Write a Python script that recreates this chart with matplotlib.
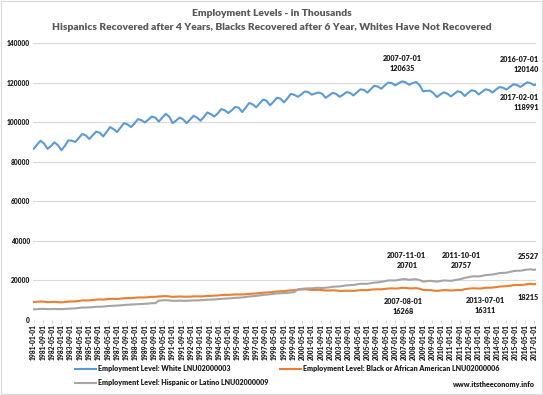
import matplotlib
matplotlib.use("Agg")
import matplotlib.pyplot as plt
import pandas as pd
import numpy as np

# ---------------- data (quarterly readings, thousands) ----------------
white = [
    86500, 88600, 90600, 89200,   # 1981
    86500, 87900, 89800, 88300,   # 1982
    85800, 88000, 90800, 90600,   # 1983
    90000, 92000, 94000, 93300,   # 1984
    91500, 93300, 95200, 94700,   # 1985
    92800, 95000, 97500, 96500,   # 1986
    95000, 97200, 99500, 98900,   # 1987
    97500, 99300, 101500, 101000,  # 1988
    99800, 101300, 102800, 102300,  # 1989
    100300, 102200, 104200, 102800,  # 1990
    99500, 100800, 102300, 101400,  # 1991
    99500, 101300, 103200, 102300,  # 1992
    100700, 102700, 104900, 104000,  # 1993
    102900, 104500, 106600, 106000,  # 1994
    104600, 106000, 107700, 107300,  # 1995
    105100, 107300, 109700, 109000,  # 1996
    107500, 109400, 111400, 110800,  # 1997
    108500, 110300, 112300, 111900,  # 1998
    110000, 112000, 114300, 113800,  # 1999
    112800, 114000, 115500, 115200,  # 2000
    113900, 114500, 115000, 114300,  # 2001
    112300, 113500, 114800, 114300,  # 2002
    112800, 113800, 115200, 114800,  # 2003
    113500, 115000, 116600, 116300,  # 2004
    114900, 116700, 118400, 118000,  # 2005
    116900, 118500, 120000, 119700,  # 2006
    118600, 119700, 120635, 120100,  # 2007
    118900, 119700, 120300, 118800,  # 2008
    115600, 115800, 115900, 114700,  # 2009
    112700, 114000, 115100, 114400,  # 2010
    113000, 114300, 115600, 115100,  # 2011
    113200, 114800, 116100, 115700,  # 2012
    114000, 115300, 116600, 116200,  # 2013
    115000, 116500, 117700, 117400,  # 2014
    116500, 117800, 119100, 118800,  # 2015
    117800, 119000, 120140, 119600,  # 2016
    118600, 118991,                  # 2017-01, 2017-02
]
black = [
    9100, 9200, 9350, 9250, 9000, 9100, 9200, 9050, 8900, 9050, 9300, 9350,
    9400, 9600, 9900, 9900, 9900, 10100, 10300, 10400, 10300, 10500, 10700, 10700,
    10600, 10800, 11000, 11100, 11000, 11200, 11400, 11400, 11400, 11500, 11700, 11700,
    11900, 12000, 12100, 11900, 11700, 11800, 11900, 11800, 11800, 11800, 11950, 11900,
    11900, 12000, 12200, 12200, 12300, 12400, 12600, 12700, 12700, 12800, 12900, 12900,
    12900, 13000, 13200, 13300, 13400, 13600, 13800, 13900, 14000, 14200, 14400, 14500,
    14600, 14800, 15000, 15100, 15300, 15400, 15500, 15400, 15200, 15200, 15300, 15100,
    14900, 14900, 15000, 14900, 14700, 14700, 14800, 14800, 14700, 14900, 15100, 15100,
    15100, 15300, 15500, 15500, 15500, 15700, 15900, 16000, 15900, 16000, 16268, 16200,
    16000, 16000, 16100, 15800, 15200, 15100, 15100, 14900, 14700, 14900, 15100, 15100,
    14900, 15000, 15200, 15100, 15600, 15800, 16000, 16000, 15900, 16000, 16311, 16300,
    16400, 16600, 16900, 17000, 17100, 17300, 17600, 17700, 17700, 17800, 18100, 18200,
    18000, 18215,
]
hispanic = [
    5400, 5500, 5600, 5600, 5500, 5500, 5600, 5500, 5500, 5600, 5700, 5800,
    5900, 6100, 6300, 6300, 6400, 6500, 6700, 6700, 6800, 7000, 7100, 7200,
    7300, 7400, 7600, 7700, 7800, 7900, 8000, 8100, 8200, 8300, 8500, 8500,
    9800, 9900, 10000, 9900, 9700, 9700, 9800, 9700, 9700, 9800, 9900, 9900,
    10000, 10100, 10300, 10300, 10400, 10500, 10700, 10800, 10900, 11000, 11200, 11300,
    11400, 11600, 11900, 12000, 12200, 12400, 12700, 12800, 13000, 13200, 13400, 13500,
    13600, 13700, 13900, 14100, 15500, 15700, 15900, 16000, 16000, 16200, 16300, 16200,
    16300, 16500, 16800, 16900, 17000, 17200, 17500, 17600, 17700, 18000, 18300, 18300,
    18300, 18600, 18900, 19000, 19300, 19600, 20000, 20000, 20000, 20300, 20600, 20701,
    20300, 20500, 20600, 20200, 19400, 19600, 19800, 19600, 19400, 19700, 20000, 19900,
    19800, 20100, 20400, 20757, 21300, 21600, 22000, 22100, 22000, 22300, 22700, 22800,
    23000, 23300, 23700, 23800, 23900, 24300, 24700, 24900, 24900, 25200, 25500, 25600,
    25300, 25527,
]

series_names = ["Employment Level: White LNU02000003",
                "Employment Level: Black or African American LNU02000006",
                "Employment Level: Hispanic or Latino LNU02000009"]
series_colors = ["#5B9BD5", "#ED7D31", "#A5A5A5"]

# annotated points
ann_dates = ["2007-07-01", "2016-07-01", "2017-02-01", "2007-08-01", "2013-07-01",
             "2017-02-01", "2007-11-01", "2011-10-01", "2017-02-01"]
ann_values = [120635, 120140, 118991, 16268, 16311, 18215, 20701, 20757, 25527]
ann_showdate = [True, True, True, True, True, False, True, True, False]
ann_above = [True, True, False, False, False, False, True, True, True]

# ---------------- dates ----------------
dates = list(pd.date_range("1981-01-01", "2016-10-01", freq="QS")) + \
        [pd.Timestamp("2017-01-01"), pd.Timestamp("2017-02-01")]
tick_dates = pd.date_range("1981-01-01", "2017-01-01", freq="8MS")

FONT = "Lato"
plt.rcParams["font.family"] = [FONT, "DejaVu Sans"]
TXT = "#1f1f1f"

fig = plt.figure(figsize=(5.43, 3.95), dpi=100)
ax = fig.add_axes([33 / 543, 1 - 320 / 395, (536 - 33) / 543, (320 - 43) / 395])

lines = []
for vals, name, col in zip([white, black, hispanic], series_names, series_colors):
    ln, = ax.plot(dates, vals, color=col, lw=1.5, label=name, solid_joinstyle="round")
    lines.append(ln)

ax.set_ylim(0, 140000)
ax.set_xlim(pd.Timestamp("1980-12-15"), pd.Timestamp("2017-02-15"))
ax.set_yticks(np.arange(0, 140001, 20000))
ax.yaxis.grid(True, color="#D9D9D9", lw=0.8)
ax.set_axisbelow(True)
for s in ax.spines.values():
    s.set_visible(False)
ax.tick_params(axis="y", length=0, labelsize=4.8, labelcolor=TXT, pad=2)
for t in ax.get_yticklabels():
    t.set_fontweight("heavy")

ax.set_xticks(tick_dates)
ax.set_xticklabels([d.strftime("%Y-%m-%d") for d in tick_dates], rotation=90,
                   fontsize=4.8, fontweight="heavy", color=TXT)
ax.tick_params(axis="x", length=2, color="#D9D9D9", pad=1)

# annotations
for d, v, sd, above in zip(ann_dates, ann_values, ann_showdate, ann_above):
    txt = f"{d}\n{v}" if sd else f"{v}"
    x = pd.Timestamp(d)
    ha = "center"
    if d in ("2017-02-01", "2016-07-01"):
        ha = "right"
        x = pd.Timestamp("2017-05-01")
    ax.annotate(txt, xy=(x, v), xytext=(0, 7 if above else -7), textcoords="offset points",
                ha=ha, va="bottom" if above else "top", fontsize=5.2, fontweight="heavy",
                color=TXT, linespacing=1.5, annotation_clip=False)

# titles
fig.text(0.5, 1 - 14 / 395, "Employment Levels - in Thousands", ha="center", va="center",
         fontsize=7.4, fontweight="heavy", color="#595959")
fig.text(0.5, 1 - 28 / 395,
         "Hispanics Recovered after 4 Years, Blacks Recovered after 6 Year, Whites Have Not Recovered",
         ha="center", va="center", fontsize=7.4, fontweight="heavy", color="#595959")

# legend
leg = fig.legend([lines[0], lines[2], lines[1]],
                 [series_names[0], series_names[2], series_names[1]],
                 ncol=2, loc="upper left", bbox_to_anchor=(75 / 543, 1 - 365 / 395),
                 frameon=False, prop={"family": FONT, "weight": "heavy", "size": 5.1},
                 handlelength=3.0, handletextpad=0.3, columnspacing=1.6, labelspacing=1.05,
                 borderpad=0, borderaxespad=0)
for t in leg.get_texts():
    t.set_color(TXT)

fig.text(535 / 543, 1 - 385 / 395, "www.itstheeconomy.info", ha="right", va="center",
         fontsize=5.1, fontweight="heavy", color=TXT)

# outer border
fig.patches.append(plt.Rectangle((0.002, 0.002), 0.996, 0.996, transform=fig.transFigure,
                                 fill=False, ec="#D9D9D9", lw=0.8))

fig.savefig("out.png", dpi=100)
